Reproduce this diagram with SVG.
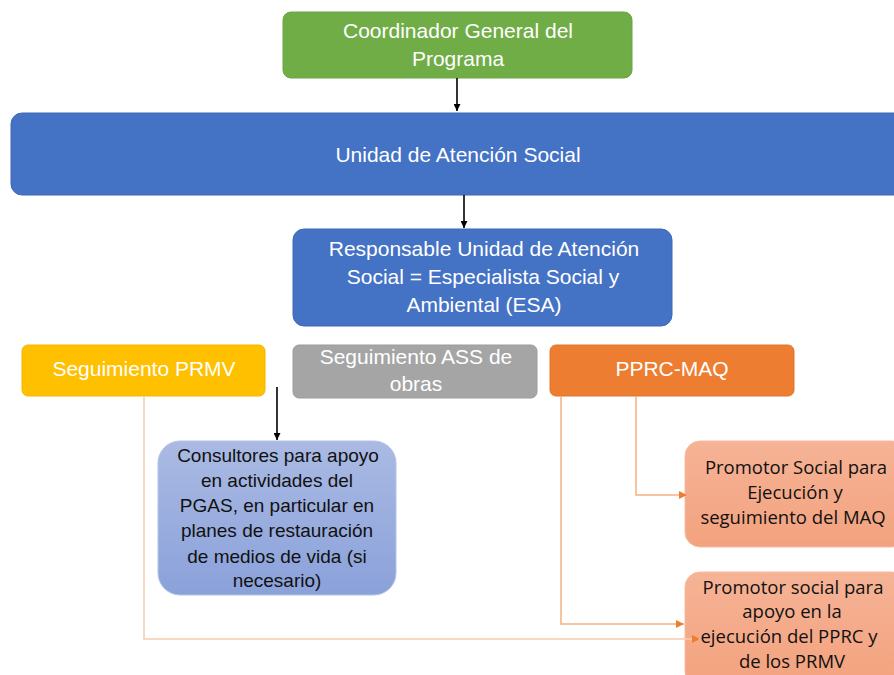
<svg xmlns="http://www.w3.org/2000/svg" width="894" height="675" viewBox="0 0 894 675">
<defs>
<linearGradient id="gBlue" x1="0" y1="0" x2="0" y2="1"><stop offset="0" stop-color="#AABAE3"/><stop offset="1" stop-color="#8AA1DA"/></linearGradient>
<linearGradient id="gPeach" x1="0" y1="0" x2="0" y2="1"><stop offset="0" stop-color="#F6B396"/><stop offset="1" stop-color="#F3A27E"/></linearGradient>
<marker id="ab" viewBox="0 0 10 10" refX="10" refY="5" markerWidth="7" markerHeight="7" markerUnits="userSpaceOnUse" orient="auto"><path d="M0,0 L10,5 L0,10 z" fill="#000"/></marker>
<marker id="ao" viewBox="0 0 10 10" refX="10" refY="5" markerWidth="8" markerHeight="8" markerUnits="userSpaceOnUse" orient="auto"><path d="M0,0 L10,5 L0,10 z" fill="#ED7D31"/></marker>
</defs>
<style>
.t{font-family:"Liberation Sans",Arial,sans-serif;font-size:21px;fill:#fff;text-anchor:middle}
.tc{font-family:"Liberation Sans",Arial,sans-serif;font-size:19px;fill:#111;text-anchor:middle}
.tp{font-family:"Open Sans","Liberation Sans",sans-serif;font-size:18.5px;fill:#111;text-anchor:middle}
.blk{stroke:#000;stroke-width:1.6;fill:none}
.org{stroke:#F4B183;stroke-width:1.5;fill:none}
.org2{stroke:#F8CBAD;stroke-width:1.5;fill:none}
</style>
<rect width="894" height="675" fill="#fff"/>
<g id="coordinador">
<rect x="283" y="12" width="349" height="66" rx="8" fill="#70AD47" stroke="#6AA544"/>
<text class="t" x="458" y="38">Coordinador General del</text>
<text class="t" x="458" y="66">Programa</text>
</g>
<g id="unidad">
<rect x="11" y="113" width="895" height="82" rx="11" fill="#4472C4" stroke="#4068B4"/>
<text class="t" x="458" y="162">Unidad de Atención Social</text>
</g>
<g id="responsable">
<rect x="293" y="229" width="379" height="97" rx="11" fill="#4472C4" stroke="#4068B4"/>
<text class="t" x="484" y="256">Responsable Unidad de Atención</text>
<text class="t" x="483" y="284">Social = Especialista Social y</text>
<text class="t" x="484" y="312">Ambiental (ESA)</text>
</g>
<g id="seg-prmv">
<rect x="22" y="345" width="243" height="51" rx="6" fill="#FFC000" stroke="#F2B600"/>
<text class="t" x="144" y="376">Seguimiento PRMV</text>
</g>
<g id="seg-ass">
<rect x="293" y="345" width="244" height="53" rx="6" fill="#A5A5A5" stroke="#9C9C9C"/>
<text class="t" x="416" y="364">Seguimiento ASS de</text>
<text class="t" x="416" y="391">obras</text>
</g>
<g id="pprc-maq">
<rect x="550" y="345" width="244" height="51" rx="6" fill="#ED7D31" stroke="#E0762E"/>
<text class="t" x="672" y="376">PPRC-MAQ</text>
</g>
<g id="consultores">
<rect x="158" y="441" width="238" height="154" rx="22" fill="url(#gBlue)" stroke="#B4C2E8"/>
<text class="tc" x="278" y="462">Consultores para apoyo</text>
<text class="tc" x="277" y="487">en actividades del</text>
<text class="tc" x="277" y="512">PGAS, en particular en</text>
<text class="tc" x="277" y="537">planes de restauración</text>
<text class="tc" x="277" y="563">de medios de vida (si</text>
<text class="tc" x="277" y="587">necesario)</text>
</g>
<g id="promotor-maq">
<rect x="685" y="441" width="222" height="106" rx="15" fill="url(#gPeach)" stroke="#F6BCA2"/>
<text class="tp" x="796" y="474">Promotor Social para</text>
<text class="tp" x="795" y="499">Ejecución y</text>
<text class="tp" x="793" y="524">seguimiento del MAQ</text>
</g>
<g id="promotor-pprc">
<rect x="685" y="572" width="222" height="115" rx="15" fill="url(#gPeach)" stroke="#F6BCA2"/>
<text class="tp" x="793" y="594">Promotor social para</text>
<text class="tp" x="792" y="618">apoyo en la</text>
<text class="tp" x="789" y="643">ejecución del PPRC y</text>
<text class="tp" x="792" y="668">de los PRMV</text>
</g>
<g id="connectors">
<line class="blk" x1="457" y1="78" x2="457" y2="111" marker-end="url(#ab)"/>
<line class="blk" x1="464" y1="195" x2="464" y2="228" marker-end="url(#ab)"/>
<line class="blk" x1="277" y1="387" x2="277" y2="440" marker-end="url(#ab)"/>
<polyline class="org" points="636,396 636,495 687,495" marker-end="url(#ao)"/>
<polyline class="org" points="561,396 561,624 684,624" marker-end="url(#ao)"/>
<polyline class="org2" points="144,396 144,639 700,639" marker-end="url(#ao)"/>
</g>
</svg>
